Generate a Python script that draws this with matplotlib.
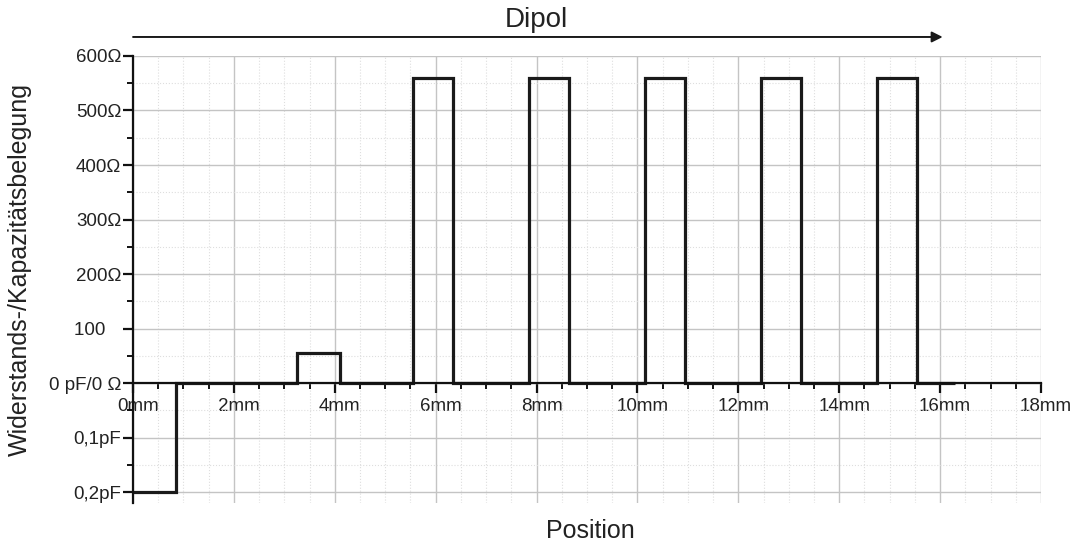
import matplotlib
matplotlib.use("Agg")
import matplotlib.pyplot as plt
import matplotlib.transforms as mtransforms
from matplotlib.ticker import MultipleLocator

plt.rcParams['font.family'] = ['Liberation Sans', 'DejaVu Sans']

# --- Data: occupancy along the dipole ---
# y is in Ohm; the capacitive part is drawn below zero (100 units = 0.1 pF)
edges_mm = [0, 0.85, 3.25, 4.1, 5.55, 6.35, 7.85, 8.65, 10.15, 10.95,
            12.45, 13.25, 14.75, 15.55, 16.3]
levels = [-200, 0, 55, 0, 560, 0, 560, 0, 560, 0, 560, 0, 560, 0]

y_ticks = [-200, -100, 0, 100, 200, 300, 400, 500, 600]
y_labels = ['0,2pF', '0,1pF', '0 pF/0 \u03a9', '100   ', '200\u03a9', '300\u03a9',
            '400\u03a9', '500\u03a9', '600\u03a9']
x_ticks = [0, 2, 4, 6, 8, 10, 12, 14, 16, 18]
x_labels = [f'{v}mm' for v in x_ticks]

TEXT = '#222222'

fig = plt.figure(figsize=(10.72, 5.44), dpi=100)
ax = fig.add_axes([0.1241, 0.0754, 0.8470, 0.8217])

# grid
ax.xaxis.set_minor_locator(MultipleLocator(0.5))
ax.yaxis.set_minor_locator(MultipleLocator(50))
ax.grid(True, which='major', color='#c4c4c4', linewidth=1.0)
ax.grid(True, which='minor', color='#dedede', linewidth=0.8, linestyle=':')
ax.set_axisbelow(True)

# the profile
st = ax.stairs(levels, edges_mm, baseline=None, color='#1a1a1a', linewidth=2.3)
st.set_joinstyle('miter')
st.set_capstyle('butt')
st.set_zorder(4)

ax.set_xlim(0, 18)
ax.set_ylim(-220, 600)

ax.spines['top'].set_visible(False)
ax.spines['right'].set_visible(False)
ax.spines['bottom'].set_position(('data', 0))
for s in ('left', 'bottom'):
    ax.spines[s].set_linewidth(1.6)
    ax.spines[s].set_color('#111111')
    ax.spines[s].set_zorder(5)

ax.set_xticks(x_ticks)
ax.set_xticklabels(x_labels)
ax.set_yticks(y_ticks)
ax.set_yticklabels(y_labels)
ax.tick_params(axis='both', which='major', direction='out', length=7, width=1.6,
               color='#111111', labelsize=13.5, labelcolor=TEXT)
ax.tick_params(axis='both', which='minor', direction='out', length=4, width=1.4,
               color='#111111')
ax.tick_params(axis='x', which='major', pad=3.5)
ax.tick_params(axis='y', which='major', pad=1.5)

# nudge the mm labels a little to the right of their ticks
shift = mtransforms.ScaledTranslation(0.05, 0, fig.dpi_scale_trans)
for tick in ax.xaxis.get_major_ticks():
    tick.label1.set_transform(tick.label1.get_transform() + shift)

# arrow and title above the plot
trans = mtransforms.blended_transform_factory(ax.transData, ax.transAxes)
ax.annotate('', xy=(16.05, 1.0425), xytext=(0, 1.0425), xycoords=trans, textcoords=trans,
            arrowprops=dict(arrowstyle='-|>', color='#1a1a1a', lw=1.4,
                            mutation_scale=16, shrinkA=0, shrinkB=0),
            annotation_clip=False)
ax.text(8.0, 1.08, 'Dipol', transform=trans, ha='center', va='center',
        fontsize=20, color=TEXT)

fig.text(20 / 1072, 1 - 270 / 544, 'Widerstands-/Kapazitätsbelegung', rotation=90,
         ha='center', va='center', fontsize=18, color=TEXT)
fig.text(590 / 1072, 1 - 531 / 544, 'Position', ha='center', va='center',
         fontsize=18, color=TEXT)

fig.savefig('out.png', dpi=100)
